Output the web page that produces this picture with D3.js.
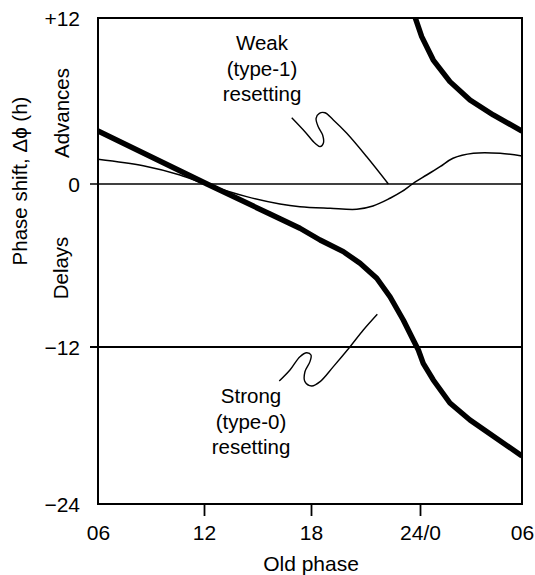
<!DOCTYPE html>
<html>
<head>
<meta charset="utf-8">
<script src="https://cdn.jsdelivr.net/npm/d3@7"></script>
<style>
  body { margin: 0; background: #fff; }
  svg { display: block; font-family: "Liberation Sans", Arial, Helvetica, sans-serif; }
</style>
</head>
<body>
<script>
// axis ticks
const phaseTicks = [6, 12, 18, 24, 30];
const phaseLabels = ["06", "12", "18", "24/0", "06"];
const shiftTicks = [12, 0, -12, -24];
const shiftLabels = ["+12", "0", "\u221212", "\u221224"];

// weak (type-1) resetting curve: old phase (h), phase shift (h)
const weakPhase = [6, 8.56, 10.64, 12.06, 14.39, 16.26, 17.38, 19.05, 20.52, 21.41, 22.35, 22.99, 23.63, 24.39, 25.18, 25.94, 27.14, 28.71, 30];
const weakShift = [1.79, 1.32, 0.65, 0, -0.93, -1.47, -1.67, -1.79, -1.86, -1.62, -1.05, -0.57, 0.05, 0.65, 1.25, 1.86, 2.22, 2.22, 2.02];

// strong (type-0) resetting curve, lower branch
const strongPhase = [6, 12.17, 15.7, 17.38, 18.5, 19.78, 20.7, 21.62, 22.35, 23.08, 23.63, 23.91, 24.19, 24.78, 25.76, 26.94, 30];
const strongShift = [3.83, 0, -2.21, -3.26, -4.12, -4.98, -5.84, -6.94, -8.3, -10.01, -11.49, -12.23, -13.25, -14.52, -16.28, -17.58, -20.33];

// strong (type-0) resetting curve, upper branch (wrapped)
const upperPhase = [23.73, 24.1, 24.78, 25.76, 26.94, 28.31, 30];
const upperShift = [12.05, 10.65, 8.96, 7.4, 6.07, 4.99, 3.83];

// hand-drawn leader lines of the two labels
const weakLeadPhase = [16.92, 17.66, 18.22, 18.5, 18.68, 18.64, 18.4, 18.28, 18.46, 18.77, 19.23, 19.97, 21.07, 22.26];
const weakLeadShift = [4.79, 3.78, 2.94, 2.7, 2.94, 3.54, 4.14, 4.75, 5.11, 5.15, 4.63, 3.67, 1.97, 0];
const strongLeadPhase = [16.22, 16.82, 17.38, 17.76, 18.0, 17.94, 17.66, 17.66, 18.04, 18.5, 19.23, 20.15, 20.88, 21.65];
const strongLeadShift = [-14.6, -13.76, -12.74, -12.44, -12.61, -13.12, -13.89, -14.65, -14.98, -14.65, -13.5, -11.98, -10.75, -9.59];

const width = 535, height = 575;
const plotL = 98, plotR = 522, plotT = 18, plotB = 504;

const x = d3.scaleLinear().domain(phaseTicks).range([98, 204, 311, 420, 522]);
const y = d3.scaleLinear().domain(shiftTicks).range([18, 184, 347, 504]);

const svg = d3.select("body").append("svg")
    .attr("width", width)
    .attr("height", height);

svg.append("defs").append("clipPath").attr("id", "plot")
  .append("rect")
    .attr("x", plotL).attr("y", plotT)
    .attr("width", plotR - plotL).attr("height", plotB - plotT);

const zip = (a, b) => a.map((v, i) => [v, b[i]]);
const line = d3.line().x(d => x(d[0])).y(d => y(d[1]));
const smooth = d3.line().x(d => x(d[0])).y(d => y(d[1])).curve(d3.curveCatmullRom.alpha(0.5));

// reference lines at 0 and -12 (extend left as ticks)
svg.append("g")
  .selectAll("line")
  .data([0, -12])
  .join("line")
    .attr("x1", 90).attr("x2", plotR)
    .attr("y1", d => y(d)).attr("y2", d => y(d))
    .attr("stroke", "#000")
    .attr("stroke-width", d => d === 0 ? 1.6 : 2);

// curves
const curves = svg.append("g").attr("clip-path", "url(#plot)").attr("fill", "none").attr("stroke", "#000");

curves.append("path")
    .attr("d", smooth(zip(weakPhase, weakShift)))
    .attr("stroke-width", 1.5);

curves.selectAll(".strong")
  .data([zip(strongPhase, strongShift), zip(upperPhase, upperShift)])
  .join("path")
    .attr("class", "strong")
    .attr("d", line)
    .attr("stroke-width", 5.4)
    .attr("stroke-linejoin", "round");

// leaders
svg.append("g").attr("fill", "none").attr("stroke", "#000").attr("stroke-width", 1.4)
  .selectAll("path")
  .data([zip(weakLeadPhase, weakLeadShift), zip(strongLeadPhase, strongLeadShift)])
  .join("path")
    .attr("d", smooth)
    .attr("stroke-linejoin", "round");

// frame
svg.append("rect")
    .attr("x", plotL).attr("y", plotT)
    .attr("width", plotR - plotL).attr("height", plotB - plotT)
    .attr("fill", "none")
    .attr("stroke", "#000")
    .attr("stroke-width", 2);

// x axis
const xAxis = svg.append("g")
    .attr("transform", `translate(0,${plotB})`)
    .call(d3.axisBottom(x).tickValues(phaseTicks).tickSize(12).tickFormat((d, i) => phaseLabels[i]));
xAxis.select(".domain").remove();
xAxis.selectAll(".tick line")
    .attr("stroke", "#000")
    .attr("stroke-width", 1.8)
    .attr("display", d => (d === 6 || d === 30) ? "none" : null);
xAxis.selectAll(".tick text")
    .attr("y", 35.5).attr("dy", 0)
    .attr("font-size", 21)
    .attr("fill", "#000");
xAxis.attr("font-family", null).attr("font-size", null);

// y tick labels
svg.append("g")
  .selectAll("text")
  .data(shiftTicks)
  .join("text")
    .attr("x", 80)
    .attr("y", d => y(d))
    .attr("dy", "0.36em")
    .attr("text-anchor", "end")
    .attr("font-size", 21)
    .text((d, i) => shiftLabels[i]);

// axis titles
svg.append("text")
    .attr("x", (plotL + plotR) / 2 + 1).attr("y", 571)
    .attr("text-anchor", "middle")
    .attr("font-size", 21)
    .text("Old phase");

svg.append("text")
    .attr("transform", "translate(27,181) rotate(-90)")
    .attr("text-anchor", "middle")
    .attr("font-size", 20.5)
    .text("Phase shift, \u0394\u03D5 (h)");

svg.append("text")
    .attr("transform", "translate(69,113) rotate(-90)")
    .attr("text-anchor", "middle")
    .attr("font-size", 20.5)
    .text("Advances");

svg.append("text")
    .attr("transform", "translate(68,268) rotate(-90)")
    .attr("text-anchor", "middle")
    .attr("font-size", 20.5)
    .text("Delays");

// curve labels
const labels = [
  {x: 262, y: 50, lines: ["Weak", "(type-1)", "resetting"]},
  {x: 251, y: 403, lines: ["Strong", "(type-0)", "resetting"]}
];
svg.append("g")
  .selectAll("text")
  .data(labels)
  .join("text")
    .attr("text-anchor", "middle")
    .attr("font-size", 20.5)
  .selectAll("tspan")
  .data(d => d.lines.map((t, i) => ({t, x: d.x, y: d.y + i * 25.5})))
  .join("tspan")
    .attr("x", d => d.x)
    .attr("y", d => d.y)
    .text(d => d.t);
</script>
</body>
</html>
